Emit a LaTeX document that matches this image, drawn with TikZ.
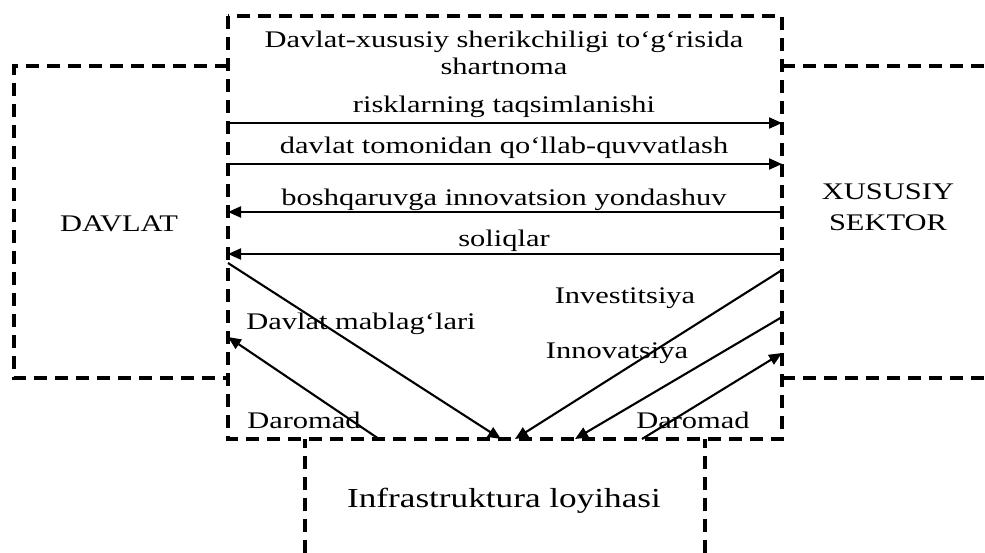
\documentclass[tikz,border=0pt]{standalone}
\usepackage{fontspec}
\setmainfont[FakeStretch=1.28]{Liberation Serif}
\usetikzlibrary{arrows.meta}
\begin{document}
\begin{tikzpicture}[x=1pt,y=-1pt,
  boxline/.style={line width=3.2pt, dash pattern=on 13pt off 8pt},
  flow/.style={line width=2.1pt, -{Triangle[length=13pt,width=11pt]}},
  lbl/.style={font=\fontsize{23.8}{27}\selectfont, inner sep=0pt, anchor=base},
  biglbl/.style={font=\fontsize{27.5}{30}\selectfont, inner sep=0pt, anchor=base}]
\useasboundingbox (0,0) rectangle (985,553);
% boxes
\draw[boxline] (228,16) rectangle (782,439);
\draw[boxline] (228,66) -- (14,66) -- (14,378) -- (228,378);
\draw[boxline] (782,66) -- (985,66);
\draw[boxline] (782,378) -- (985,378);
\draw[boxline] (305,553) -- (305,439);
\draw[boxline] (705,553) -- (705,439);
% texts
\node[lbl] (t1) at (504,48) {Davlat-xususiy sherikchiligi to‘g‘risida};
\node[lbl] (t2) at (504,75) {shartnoma};
\node[lbl] (l1) at (504,113) {risklarning taqsimlanishi};
\node[lbl] (l2) at (504,154) {davlat tomonidan qo‘llab-quvvatlash};
\node[lbl] (l3) at (504,206) {boshqaruvga innovatsion yondashuv};
\node[lbl] (l4) at (504,247) {soliqlar};
\node[lbl] (dav) at (119,232) {DAVLAT};
\node[lbl] (xu1) at (888,200) {XUSUSIY};
\node[lbl] (xu2) at (888,231) {SEKTOR};
\node[lbl] (inv) at (625,303) {Investitsiya};
\node[lbl] (dm) at (361,330) {Davlat mablag‘lari};
\node[lbl] (inn) at (617,358) {Innovatsiya};
\node[lbl] (dr1) at (304,428) {Daromad};
\node[lbl] (dr2) at (693,428) {Daromad};
\node[biglbl] (inf) at (504,507) {Infrastruktura loyihasi};
% connector end points
\coordinate (a1s) at (228,123); \coordinate (a1e) at (782,123);
\coordinate (a2s) at (228,164); \coordinate (a2e) at (782,164);
\coordinate (a3s) at (782,212); \coordinate (a3e) at (228,212);
\coordinate (a4s) at (782,254); \coordinate (a4e) at (228,254);
\coordinate (d1s) at (228,263); \coordinate (d1e) at (501,439);
\coordinate (d2s) at (379,439); \coordinate (d2e) at (228,337);
\coordinate (d3s) at (782,270); \coordinate (d3e) at (515,439);
\coordinate (d4s) at (782,317); \coordinate (d4e) at (575,439);
\coordinate (d5s) at (642,439); \coordinate (d5e) at (782,353);
% connectors
\draw[flow] (a1s) -- (a1e);
\draw[flow] (a2s) -- (a2e);
\draw[flow] (a3s) -- (a3e);
\draw[flow] (a4s) -- (a4e);
\draw[flow] (d1s) -- (d1e);
\draw[flow] (d2s) -- (d2e);
\draw[flow] (d3s) -- (d3e);
\draw[flow] (d4s) -- (d4e);
\draw[flow] (d5s) -- (d5e);
\end{tikzpicture}
\end{document}
